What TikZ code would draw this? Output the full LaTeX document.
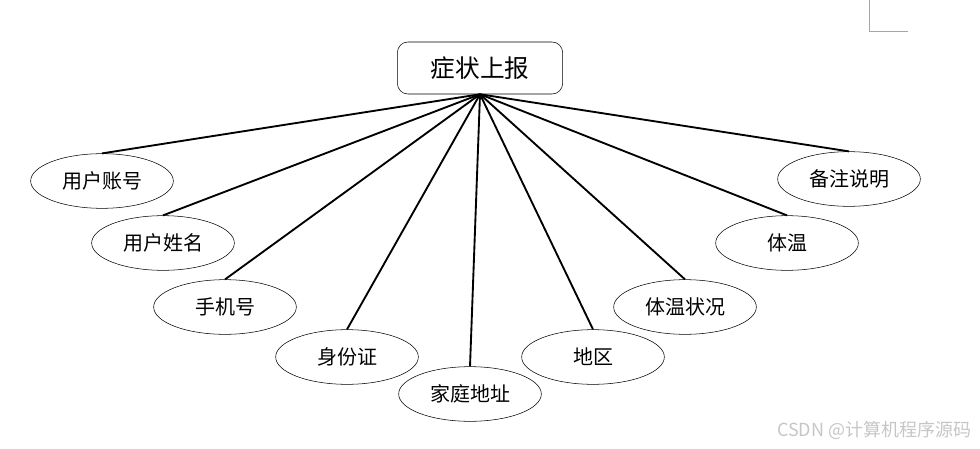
\documentclass[tikz,border=0pt]{standalone}
\usepackage{fontspec}
\setmainfont{Noto Sans CJK SC}
\usepackage{tikz}
\usetikzlibrary{shapes.geometric}

\begin{document}
\begin{tikzpicture}[
  x=0.75pt, y=-0.75pt,
  topbox/.style={rectangle, rounded corners=8pt, draw, thin, minimum width=124pt, minimum height=39pt, align=center, font=\fontsize{18.5}{20}\selectfont},
  attr/.style={ellipse, draw, thin, inner sep=0pt, minimum width=107pt, minimum height=41pt, align=center, font=\fontsize{15}{16}\selectfont},
  link/.style={line width=1.4pt},
]
  \useasboundingbox (0,0) rectangle (980,449);

  % Nodes
  \node[topbox] (report) at (480,68) {症状上报};
  \node[attr] (acct)   at (102,181) {用户账号};
  \node[attr] (uname)  at (163,243) {用户姓名};
  \node[attr] (phone)  at (225,307) {手机号};
  \node[attr] (idcard) at (347,357) {身份证};
  \node[attr] (addr)   at (470,394) {家庭地址};
  \node[attr] (region) at (593,357) {地区};
  \node[attr] (tstat)  at (685,307) {体温状况};
  \node[attr] (temp)   at (787,243) {体温};
  \node[attr] (note)   at (849,179) {备注说明};

  % Links
  \foreach \n in {acct, uname, phone, idcard, addr, region, tstat, temp, note}
    \draw[link] (report.south) -- (\n.north);

  % Page corner mark and watermark
  \draw[gray!70, thin] (869,0) -- (869,31) -- (908,31);
  \node[gray!45, anchor=east, font=\fontsize{13.5}{15}\selectfont] (mark) at (976,430) {CSDN @计算机程序源码};
\end{tikzpicture}
\end{document}
